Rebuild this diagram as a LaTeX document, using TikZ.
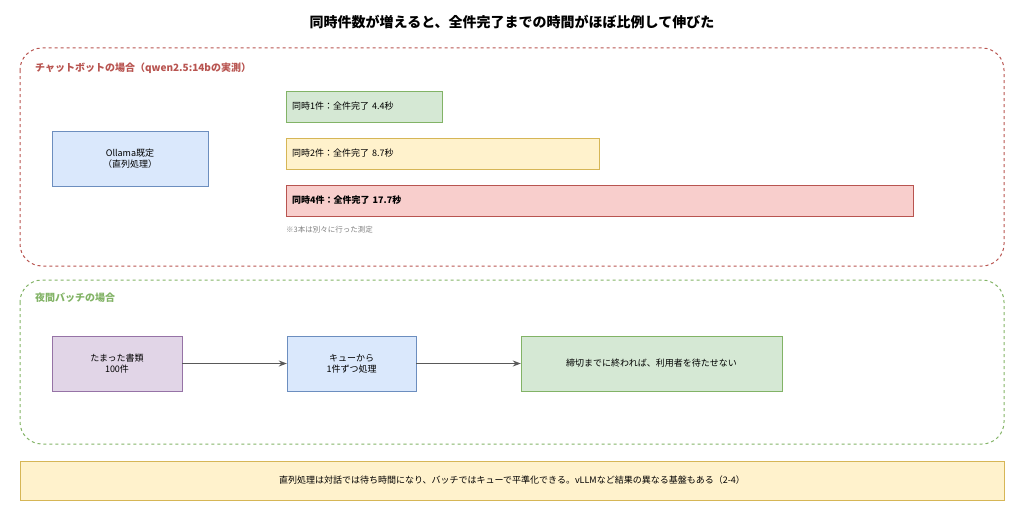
\documentclass[tikz,border=0pt]{standalone}
\usepackage{fontspec}
\setmainfont{Noto Sans CJK JP}
\usetikzlibrary{positioning,arrows.meta}
\definecolor{redS}{HTML}{B85450}\definecolor{redF}{HTML}{F8CECC}
\definecolor{grnS}{HTML}{82B366}\definecolor{grnF}{HTML}{D5E8D4}
\definecolor{ylwS}{HTML}{D6B656}\definecolor{ylwF}{HTML}{FFF2CC}
\definecolor{bluS}{HTML}{6C8EBF}\definecolor{bluF}{HTML}{DAE8FC}
\definecolor{purS}{HTML}{9673A6}\definecolor{purF}{HTML}{E1D5E7}
\begin{document}
\begin{tikzpicture}[x=1pt,y=-1pt,
        every node/.style={font=\fontsize{9}{11}\selectfont, align=center, inner sep=0pt},
        group/.style={draw, dashed, rounded corners=22pt, line width=1pt},
        box/.style={draw, minimum height=55pt},
        bar/.style={draw, minimum height=31pt, anchor=west, align=left, inner xsep=6pt}
    ]
    \useasboundingbox (0,0) rectangle (1024,519);

    % Title
    \node (title) at (512,22) {\fontsize{14}{16}\selectfont\bfseries 同時件数が増えると、全件完了までの時間がほぼ比例して伸びた};

    % Chatbot group
    \draw[group, redS] (20,48) rectangle (1004,266);
    \node (chatlabel)[anchor=west, text=redS, font=\fontsize{10}{12}\selectfont\bfseries] at (35,68) {チャットボットの場合（qwen2.5:14bの実測）};
    \node (ollama)[box, fill=bluF, draw=bluS, minimum width=156pt] at (130,158.5) {Ollama既定\\（直列処理）};
    \node (one)[bar, fill=grnF, draw=grnS, text width=144pt] at (286,106.5) {同時1件：全件完了 4.4秒};
    \node (two)[bar, fill=ylwF, draw=ylwS, text width=301pt] at (286,153.5) {同時2件：全件完了 8.7秒};
    \node (four)[bar, fill=redF, draw=redS, text width=615pt, font=\fontsize{9}{11}\selectfont\bfseries] at (286,200.5) {同時4件：全件完了 17.7秒};
    \node (note)[anchor=west, text=gray, font=\fontsize{7.5}{9}\selectfont] at (286,230) {※3本は別々に行った測定};

    % Batch group
    \draw[group, grnS] (20,280) rectangle (1004,444);
    \node (batchlabel)[anchor=west, text=grnS, font=\fontsize{10}{12}\selectfont\bfseries] at (35,298) {夜間バッチの場合};
    \node (docs)[box, fill=purF, draw=purS, minimum width=130pt] at (117,363.5) {たまった書類\\100件};
    \node (queue)[box, fill=bluF, draw=bluS, minimum width=129pt] at (351.5,363.5) {キューから\\1件ずつ処理};
    \node (done)[box, fill=grnF, draw=grnS, minimum width=261pt] at (651.5,363.5) {締切までに終われば、利用者を待たせない};

    % Edges
    \draw[-{Stealth[length=8pt]}, line width=1.2pt, black!65] (docs) -- (queue);
    \draw[-{Stealth[length=8pt]}, line width=1.2pt, black!65] (queue) -- (done);

    % Summary
    \node (summary)[draw=ylwS, fill=ylwF, minimum width=984pt, minimum height=39pt] at (512,480.5) {直列処理は対話では待ち時間になり、バッチではキューで平準化できる。vLLMなど結果の異なる基盤もある（2-4）};
\end{tikzpicture}
\end{document}
